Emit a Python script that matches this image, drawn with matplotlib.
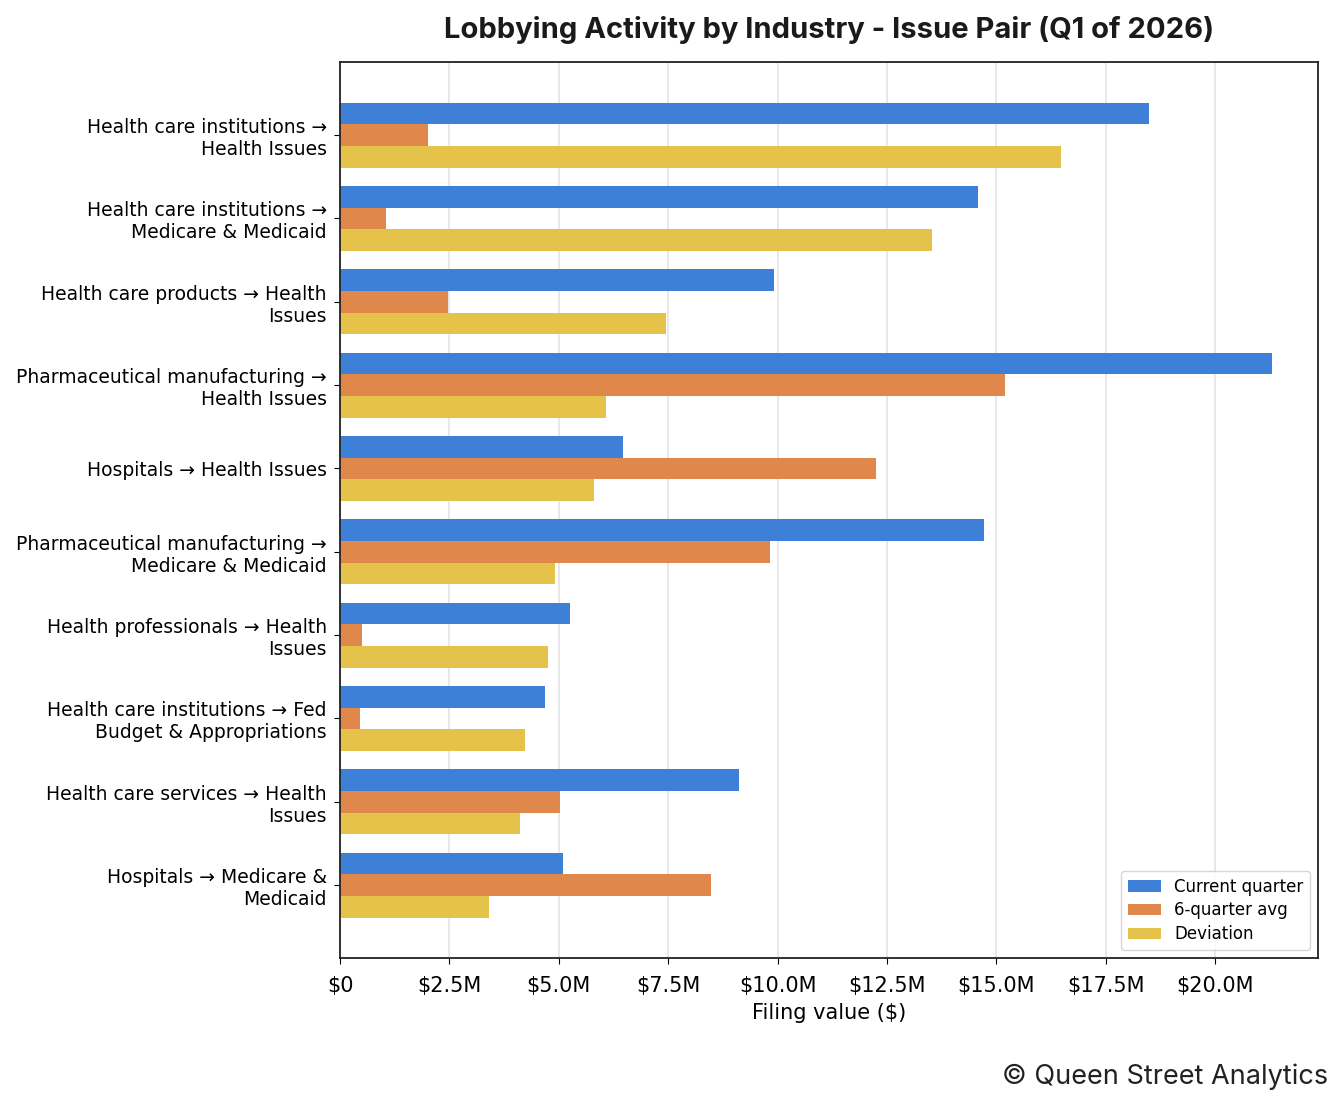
import numpy as np
import matplotlib.pyplot as plt
from matplotlib.ticker import FuncFormatter

# Données (en millions de $)
labels = [
    "Health care institutions →\nHealth Issues",
    "Health care institutions →\nMedicare & Medicaid",
    "Health care products → Health\nIssues",
    "Pharmaceutical manufacturing →\nHealth Issues",
    "Hospitals → Health Issues",
    "Pharmaceutical manufacturing →\nMedicare & Medicaid",
    "Health professionals → Health\nIssues",
    "Health care institutions → Fed\nBudget & Appropriations",
    "Health care services → Health\nIssues",
    "Hospitals → Medicare &\nMedicaid",
]
current_q = [18.49, 14.59, 9.91, 21.30, 6.46, 14.73, 5.25, 4.68, 9.13, 5.09]
avg_6q = [2.01, 1.05, 2.47, 15.21, 12.26, 9.82, 0.50, 0.46, 5.02, 8.49]
deviation = [16.48, 13.54, 7.44, 6.09, 5.80, 4.91, 4.75, 4.22, 4.11, 3.40]

fig, ax = plt.subplots(figsize=(13.44, 11.04), dpi=100)
fig.subplots_adjust(left=0.253, right=0.981, top=0.944, bottom=0.132)

y = np.arange(len(labels))
h = 0.26
ax.barh(y - h, np.array(current_q) * 1e6, height=h, color='#3E7FD8', label='Current quarter')
ax.barh(y, np.array(avg_6q) * 1e6, height=h, color='#E0884C', label='6-quarter avg')
ax.barh(y + h, np.array(deviation) * 1e6, height=h, color='#E5C24A', label='Deviation')

ax.set_yticks(y)
ax.set_yticklabels(labels, fontsize=13.5)
ax.invert_yaxis()
ax.tick_params(axis='y', pad=5, length=4.5)

def fmt(v, pos):
    if v == 0:
        return '$0'
    return f'${v/1e6:.1f}M'

ax.xaxis.set_major_formatter(FuncFormatter(fmt))
ax.set_xticks(np.arange(0, 21e6, 2.5e6))
ax.tick_params(axis='x', labelsize=15, length=4.5, pad=8)
ax.set_xlabel('Filing value ($)', fontsize=15, labelpad=5)

ax.grid(axis='x', color='#dddddd', linewidth=1.2, alpha=0.8)
ax.set_axisbelow(True)
for s in ax.spines.values():
    s.set_linewidth(1.3)
    s.set_color('#222222')

ax.legend(loc='lower right', fontsize=12, labelspacing=0.35)
ax.set_title('Lobbying Activity by Industry - Issue Pair (Q1 of 2026)',
             fontsize=21, fontweight='bold', family='Inter', pad=17, color='#1a1a1a')

fig.text(0.988, 0.013, '© Queen Street Analytics', ha='right', va='bottom',
         fontsize=19.5, family='Inter', color='#222222')

fig.savefig('out.png', dpi=100)
